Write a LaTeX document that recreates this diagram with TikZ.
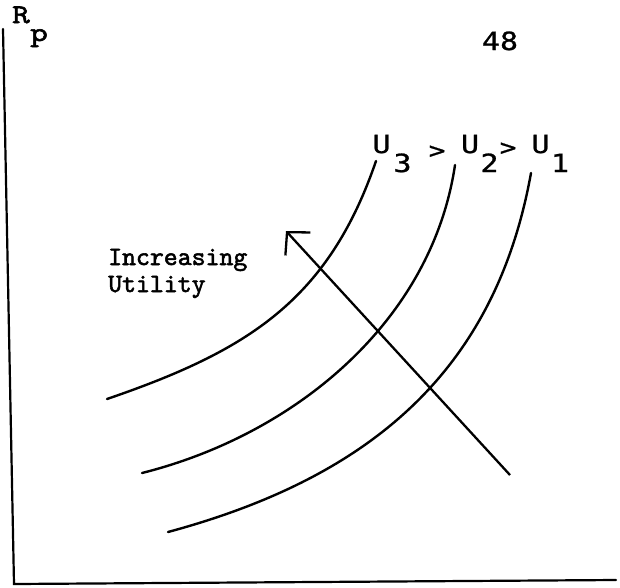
\documentclass[tikz,border=0pt]{standalone}
\usepackage{fontspec}
\usetikzlibrary{arrows.meta}
\newfontfamily\twfont{lmmono10-regular}[Extension=.otf, FakeBold=2]
\newfontfamily\rpfont{lmmono10-regular}[Extension=.otf, FakeBold=2, FakeStretch=1.25]
\newfontfamily\lgfont[FakeStretch=1.2,FakeBold=1]{DejaVu Sans Mono}
\tikzset{
  axisline/.style={line width=2.2pt, line cap=round},
  curveline/.style={line width=2.4pt, line cap=round, line join=round},
  twtext/.style={inner sep=0pt, font=\twfont\fontsize{26.5}{30}\selectfont},
  rptext/.style={inner sep=0pt, font=\rpfont\fontsize{27}{30}\selectfont},
  lgtext/.style={inner sep=0pt, font=\lgfont\fontsize{25}{29}\selectfont},
  gttext/.style={inner sep=0pt, font=\lgfont\fontsize{23}{27}\selectfont},
}
\begin{document}
\begin{tikzpicture}[x=1pt,y=-1pt]
\useasboundingbox (0,0) rectangle (620,587);
% axes
\coordinate (ytop) at (3,29);
\coordinate (origin) at (14,584);
\coordinate (xend) at (616,580);
\draw[axisline] (ytop) -- (origin) -- (xend);
% axis label
\node[rptext, anchor=base] (R) at (21,23) {R};
\node[rptext, anchor=base] (p) at (39,41) {p};
% page number
\node[lgtext, anchor=base] (num) at (500,50) {48};
% curve labels
\node[lgtext, anchor=base] (u3) at (381.5,153) {U};
\node[lgtext, anchor=base] (s3) at (402.5,172) {3};
\node[gttext] (g1) at (437,152) {>};
\node[lgtext, anchor=base] (u2) at (470,153) {U};
\node[lgtext, anchor=base] (s2) at (489.5,172) {2};
\node[gttext] (g2) at (508,149) {>};
\node[lgtext, anchor=base] (u1) at (540.5,153) {U};
\node[lgtext, anchor=base] (s1) at (560,172) {1};
% indifference curves
\coordinate (c3a) at (107,399);
\coordinate (c3b) at (376,161);
\coordinate (c2a) at (142,473);
\coordinate (c2b) at (455,165);
\coordinate (c1a) at (168,532);
\coordinate (c1b) at (531,173);
\draw[curveline] (c3a) .. controls (247,351) and (328,301) .. (c3b);
\draw[curveline] (c2a) .. controls (297,434) and (432,320) .. (c2b);
\draw[curveline] (c1a) .. controls (368,478) and (495,373) .. (c1b);
% arrow
\coordinate (atail) at (510,475);
\coordinate (ahead) at (286,231);
\draw[line width=2.3pt, -{Straight Barb[length=16pt,width=34pt]}] (atail) -- (ahead);
% arrow label
\node[twtext, anchor=base west] (inc) at (108,265) {Increasing};
\node[twtext, anchor=base west] (uti) at (108,292) {Utility};
\end{tikzpicture}
\end{document}
